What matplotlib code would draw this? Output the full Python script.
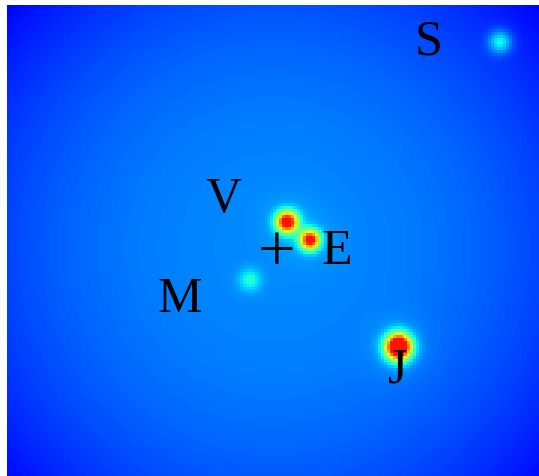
import numpy as np
import matplotlib
matplotlib.use('Agg')
import matplotlib.pyplot as plt

# grid size (cells)
nx, ny = 178, 157

# centre of the system (the "+")
centre = (89.3, 81.0)

# bodies: name, position (cells), peak strength, core width, halo strength, halo width
names = ['V', 'E', 'M', 'J', 'S']
bx = [93.7, 101.3, 81.3, 131.0, 165.0]
by = [72.3, 78.3, 91.7, 114.0, 12.3]
peak = [0.74, 0.70, 0.14, 1.0, 0.21]
core = [2.5, 2.3, 2.6, 3.0, 2.6]
halo = [0.02, 0.02, 0.0, 0.035, 0.0]
halo_w = [7.0, 7.0, 1.0, 7.0, 1.0]

# label positions (cells)
lx = [72.3, 110.3, 57.7, 130.7, 141.0]
ly = [65.0, 82.3, 98.3, 121.7, 12.3]

x = np.arange(nx) + 0.5
y = np.arange(ny) + 0.5
X, Y = np.meshgrid(x, y)

# smooth background falling off from the centre
r = np.hypot(X - centre[0], Y - centre[1]) * 3.0
field = 0.26 - 0.06 * (r / 255.0) ** 2.3

for i in range(len(names)):
    d2 = (X - bx[i]) ** 2 + (Y - by[i]) ** 2
    field += peak[i] * np.exp(-d2 / (2 * core[i] ** 2))
    field += halo[i] * np.exp(-d2 / (2 * halo_w[i] ** 2))

# saturate at plain red
field = np.clip(field, 0, 0.89)

fig = plt.figure(figsize=(5.39, 4.76), dpi=100)
ax = fig.add_axes([7 / 539, 0, 532 / 539, 471 / 476])
ax.imshow(field, cmap='jet', vmin=0, vmax=1, interpolation='nearest',
          extent=[0, nx, ny, 0], aspect='auto')

for i in range(len(names)):
    ax.text(lx[i], ly[i], names[i], fontsize=36, family='Liberation Serif',
            ha='center', va='center', color='black')
ax.text(centre[0] + 0.8, centre[1] + 2.0, '+', fontsize=48,
        family='Liberation Serif', ha='center', va='center', color='black')

ax.set_xlim(0, nx)
ax.set_ylim(ny, 0)
ax.axis('off')

fig.savefig('out.png', dpi=100)
